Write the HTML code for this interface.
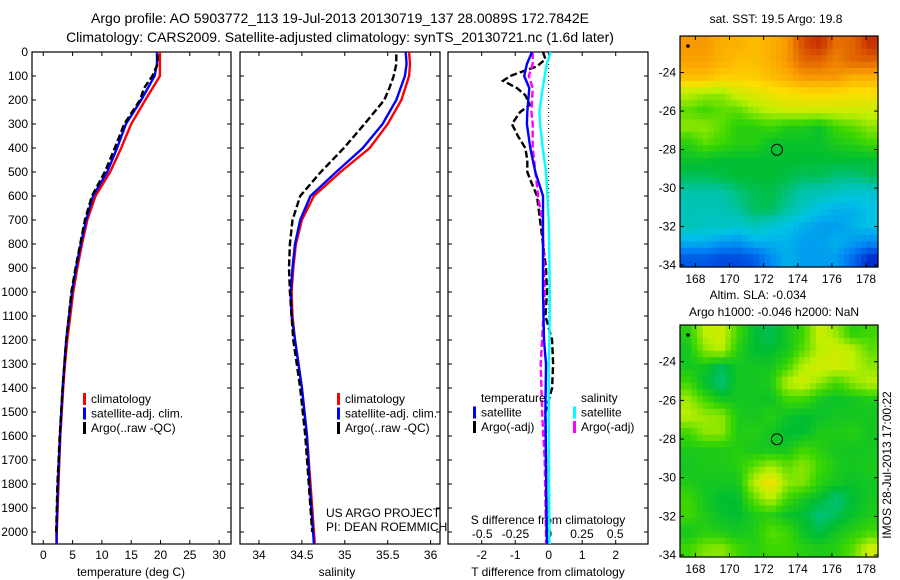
<!DOCTYPE html>
<html><head><meta charset="utf-8"><style>
body{margin:0;background:#fff;}
svg{display:block;font-family:"Liberation Sans",sans-serif;}
text{fill:#000;}
</style></head><body>
<svg id="fig" width="900" height="580">
<text x="340" y="23" font-size="14" text-anchor="middle">Argo profile: AO 5903772_113 19-Jul-2013 20130719_137 28.0089S 172.7842E</text>
<text x="340" y="42" font-size="14" text-anchor="middle">Climatology: CARS2009. Satellite-adjusted climatology: synTS_20130721.nc (1.6d later)</text>
<g id="g"></g>
</svg>
<script>
// ---------- data ----------
const depthTicks=[0,100,200,300,400,500,600,700,800,900,1000,1100,1200,1300,1400,1500,1600,1700,1800,1900,2000];
const tempTicks=[0,5,10,15,20,25,30];
const salTicks=[34,34.5,35,35.5,36];
const tdiffTicks=[-2,-1,0,1,2];
const sdiffTicks=[-0.5,-0.25,0,0.25,0.5];
const sdiffTickLabels=["-0.5","-0.25","0","0.25","0.5"];
const lonTicks=[168,170,172,174,176,178];
const latTicks=[-24,-26,-28,-30,-32,-34];

const profDepth=[0,50,100,200,300,400,500,600,700,800,900,1000,1100,1200,1300,1400,1600,1800,2000,2050];
const tempClim=[19.9,19.9,19.9,17.4,15.0,13.3,11.4,8.9,7.5,6.6,5.8,5.1,4.6,4.1,3.7,3.4,2.9,2.6,2.3,2.3];
const tempSat =[19.4,19.4,19.0,16.7,14.1,12.6,10.9,8.5,7.3,6.4,5.6,4.9,4.4,3.9,3.6,3.3,2.85,2.5,2.25,2.25];
const salClim=[35.75,35.76,35.75,35.66,35.50,35.29,34.95,34.64,34.50,34.43,34.40,34.38,34.39,34.42,34.46,34.50,34.56,34.60,34.64,34.65];
const salSat =[35.71,35.72,35.70,35.60,35.44,35.21,34.90,34.60,34.48,34.42,34.39,34.37,34.38,34.42,34.46,34.50,34.56,34.59,34.63,34.64];

const argoDepth=[10,50,100,150,200,300,400,500,600,700,800,900,1000,1200,1400,1600,1800,1900,2000];
const argoTemp=[19.5,19.5,18.6,17.2,16.5,13.8,12.2,10.5,8.3,7.1,6.3,5.5,4.8,3.9,3.3,2.8,2.4,2.3,2.2];
const argoSal=[35.60,35.60,35.57,35.52,35.46,35.23,34.99,34.72,34.48,34.39,34.36,34.35,34.36,34.40,34.48,34.54,34.58,34.60,34.62];

const diffDepth=[0,50,100,150,250,300,400,500,600,700,800,1000,1200,1300,1500,1700,2000,2050];
const tDiffSat=[-0.5,-0.65,-0.73,-0.58,-0.64,-0.65,-0.55,-0.4,-0.17,-0.17,-0.17,-0.17,-0.14,-0.08,-0.1,-0.08,-0.06,-0.05];
const sDiffSat=[0.015,-0.015,-0.03,-0.045,-0.07,-0.065,-0.045,-0.02,-0.01,0,0.004,0.008,0.006,0.0,0.0,0.002,0.005,0.005];
const sDiffArgo=[-0.12,-0.12,-0.15,-0.12,-0.13,-0.12,-0.12,-0.1,-0.08,-0.05,-0.04,-0.03,-0.05,-0.06,-0.05,-0.03,-0.02,-0.02];
const tDiffDepth=[0,30,60,80,100,120,150,180,220,250,300,350,400,450,500,550,600,700,800,900,1000,1100,1200,1300,1400,1500,1700,2000];
const tDiffArgo=[-0.17,-0.1,-0.35,-0.76,-1.15,-1.36,-0.95,-0.7,-0.56,-0.85,-1.1,-0.92,-0.7,-0.64,-0.64,-0.5,-0.35,-0.26,-0.17,-0.08,-0.05,-0.1,0.1,0.13,0.1,-0.1,-0.08,-0.06];

const sstGrid=[
[0.75,0.75,0.72,0.72,0.70,0.72,0.75,0.85,0.88,0.80,0.82,0.88],
[0.74,0.74,0.72,0.70,0.70,0.72,0.75,0.82,0.82,0.78,0.82,0.82],
[0.70,0.70,0.68,0.68,0.68,0.70,0.72,0.75,0.75,0.75,0.72,0.72],
[0.58,0.56,0.55,0.60,0.62,0.64,0.65,0.66,0.66,0.66,0.65,0.65],
[0.52,0.50,0.52,0.52,0.56,0.58,0.60,0.60,0.60,0.60,0.60,0.60],
[0.55,0.55,0.52,0.48,0.48,0.50,0.47,0.47,0.45,0.50,0.52,0.55],
[0.48,0.52,0.50,0.48,0.48,0.45,0.45,0.45,0.45,0.47,0.48,0.50],
[0.45,0.45,0.44,0.44,0.44,0.44,0.44,0.44,0.44,0.44,0.44,0.44],
[0.42,0.42,0.43,0.44,0.44,0.44,0.43,0.42,0.42,0.40,0.40,0.42],
[0.37,0.37,0.37,0.40,0.42,0.43,0.40,0.37,0.36,0.35,0.34,0.34],
[0.36,0.36,0.36,0.38,0.42,0.42,0.38,0.35,0.32,0.30,0.30,0.32],
[0.36,0.35,0.35,0.34,0.36,0.34,0.32,0.30,0.28,0.28,0.30,0.32],
[0.30,0.30,0.28,0.27,0.30,0.30,0.30,0.28,0.28,0.30,0.28,0.26],
[0.20,0.20,0.18,0.18,0.20,0.26,0.30,0.28,0.28,0.28,0.22,0.14]];
const slaGrid=[
[0.48,0.58,0.60,0.50,0.44,0.42,0.46,0.50,0.60,0.55,0.48,0.50],
[0.46,0.55,0.58,0.48,0.44,0.44,0.46,0.52,0.58,0.60,0.58,0.52],
[0.46,0.46,0.42,0.46,0.46,0.46,0.50,0.58,0.60,0.60,0.58,0.55],
[0.50,0.44,0.40,0.46,0.46,0.47,0.58,0.60,0.55,0.50,0.55,0.58],
[0.56,0.50,0.46,0.46,0.46,0.45,0.50,0.50,0.46,0.45,0.46,0.47],
[0.58,0.56,0.55,0.47,0.46,0.48,0.45,0.44,0.45,0.46,0.46,0.46],
[0.50,0.55,0.55,0.47,0.48,0.46,0.44,0.44,0.47,0.47,0.48,0.46],
[0.47,0.47,0.47,0.48,0.46,0.46,0.46,0.50,0.48,0.46,0.46,0.46],
[0.46,0.47,0.47,0.48,0.52,0.56,0.52,0.55,0.50,0.47,0.46,0.47],
[0.47,0.46,0.46,0.46,0.58,0.65,0.55,0.54,0.48,0.46,0.45,0.46],
[0.50,0.46,0.44,0.44,0.52,0.58,0.50,0.46,0.44,0.40,0.44,0.46],
[0.50,0.47,0.45,0.44,0.47,0.48,0.45,0.44,0.40,0.42,0.45,0.47],
[0.46,0.48,0.47,0.46,0.47,0.52,0.50,0.45,0.43,0.46,0.48,0.50],
[0.50,0.54,0.55,0.50,0.48,0.50,0.50,0.48,0.47,0.48,0.52,0.60]];
const argoLon=172.78, argoLat=-28.01;

// ---------- helpers ----------
const NS="http://www.w3.org/2000/svg";
const G=document.getElementById('g');
function mk(tag,attrs,parent){const e=document.createElementNS(NS,tag);for(const k in attrs)e.setAttribute(k,attrs[k]);(parent||G).appendChild(e);return e;}
function txt(x,y,s,size,anchor,parent){const t=mk('text',{x:x,y:y,'font-size':size||12,'text-anchor':anchor||'middle'},parent);t.textContent=s;return t;}

const PT=52,PB=544;
const yD=d=>PT+d*0.24;
const panels=[{x0:32,x1:231},{x0:240,x1:440},{x0:448,x1:648}];
const xT=v=>43.3+v*5.86;
const xS=v=>259+(v-34)*85.8;
const xTd=v=>548.7+v*33.5;
const xSd=v=>548.7+v*133;

panels.forEach((p,i)=>{
  const r=mk('rect',{x:p.x0,y:PT,width:p.x1-p.x0,height:PB-PT,fill:'none',stroke:'#000','stroke-width':1.2});
  
  
  depthTicks.forEach(d=>{
    mk('line',{x1:p.x0,x2:p.x0+4,y1:yD(d),y2:yD(d),stroke:'#000'});
    mk('line',{x1:p.x1,x2:p.x1-4,y1:yD(d),y2:yD(d),stroke:'#000'});
  });
});
depthTicks.forEach(d=>{const t=txt(28,yD(d)+4,String(d),12,'end');
  
  });

function xaxis(ticks,fx,labels,y){ticks.forEach((v,i)=>{const x=fx(v);
  mk('line',{x1:x,x2:x,y1:PT,y2:PT+4,stroke:'#000'});mk('line',{x1:x,x2:x,y1:PB,y2:PB-4,stroke:'#000'});
  const t=txt(x,y,labels?labels[i]:String(v),12);
  
  });}
xaxis(tempTicks,xT,null,559);
xaxis(salTicks,xS,null,559);
xaxis(tdiffTicks,xTd,null,559);
sdiffTicks.forEach((v,i)=>{const t=txt(xSd(v),538,sdiffTickLabels[i],12);
  
  });
[['temperature (deg C)',131,'x-axis-title-temperature'],['salinity',337,'x-axis-title-salinity'],['T difference from climatology',548,'x-axis-title-t-diff']].forEach(a=>{
  const t=txt(a[1],576,a[0],12);});
{const t=txt(548,524,'S difference from climatology',12);}
{const t=txt(326,517,'US ARGO PROJECT',12,'start');}
{const t=txt(326,531,'PI: DEAN ROEMMICH',12,'start');}

mk('line',{x1:xTd(0),x2:xTd(0),y1:PT,y2:PB,stroke:'#000','stroke-dasharray':'1 3'});

function line(xs,ds,fx,color,dash,name,w){
  const pts=xs.map((v,i)=>fx(v).toFixed(1)+','+yD(ds[i]).toFixed(1)).join(' ');
  const a={points:pts,fill:'none',stroke:color,'stroke-width':w||2.4};
  if(dash)a['stroke-dasharray']=dash;
  const e=mk('polyline',a);
  
  
}
line(tempClim,profDepth,xT,'#ff0000',null,'temp-climatology-line');
line(tempSat,profDepth,xT,'#0000ff',null,'temp-satellite-line');
line(argoTemp,argoDepth,xT,'#000',"7 3",'temp-argo-line');
line(salClim,profDepth,xS,'#ff0000',null,'sal-climatology-line');
line(salSat,profDepth,xS,'#0000ff',null,'sal-satellite-line');
line(argoSal,argoDepth,xS,'#000',"7 3",'sal-argo-line');
line(tDiffArgo,tDiffDepth,xTd,'#000',"7 3",'t-diff-argo-line');
line(sDiffArgo,diffDepth,xSd,'#ff00ff',"7 3",'s-diff-argo-line');
line(sDiffSat,diffDepth,xSd,'#00ffff',null,'s-diff-satellite-line');
line(tDiffSat,diffDepth,xTd,'#0000ff',null,'t-diff-satellite-line');

function legend(x,y,items,prefix){items.forEach((it,i)=>{
  const r=mk('rect',{x:x,y:y+i*14.5-10,width:3,height:12,fill:it[1]});
  
  
  const t=txt(x+8,y+i*14.5,it[0],12,'start');
  
  });}
legend(83,403,[['climatology','#f00'],['satellite-adj. clim.','#00f'],['Argo(..raw -QC)','#000']],'legend-temp');
legend(337,403,[['climatology','#f00'],['satellite-adj. clim.','#00f'],['Argo(..raw -QC)','#000']],'legend-sal');
{const t=txt(481,402,'temperature',12,'start');}
{const t=txt(581,402,'salinity',12,'start');}
legend(473,416.5,[['satellite','#00f'],['Argo(-adj)','#000']],'legend-t-diff');
legend(573,416.5,[['satellite','#0ff'],['Argo(-adj)','#f0f']],'legend-s-diff');

// ---------- maps ----------
const cmapStops=[[0,[0,0,140]],[0.15,[0,50,210]],[0.25,[0,130,245]],[0.32,[0,195,230]],[0.38,[0,195,160]],[0.44,[0,190,50]],[0.5,[60,215,0]],[0.58,[190,240,0]],[0.66,[255,220,0]],[0.74,[250,160,0]],[0.82,[225,100,0]],[0.9,[190,30,0]],[1,[140,0,0]]];
function cmap(v){v=Math.max(0,Math.min(1,v));
  for(let k=0;k<cmapStops.length-1;k++){const a=cmapStops[k],b=cmapStops[k+1];
    if(v<=b[0]){const f=(v-a[0])/(b[0]-a[0]);
      return 'rgb('+a[1].map((c,i)=>Math.round(c+(b[1][i]-c)*f)).join(',')+')';}}
  return 'rgb(140,0,0)';}
const LON0=167.1,LON1=178.7,LAT0=-22.1,LAT1=-34.1;
function drawMap(grid,y0,y1,name){
  const X0=680,X1=878;
  const fx=lon=>X0+(lon-LON0)/(LON1-LON0)*(X1-X0);
  const fy=lat=>y0+(LAT0-lat)/(LAT0-LAT1)*(y1-y0);
  const grp=mk('g',{});
  
  
  const R=grid.length,C=grid[0].length,NX=35,NY=36;
  const cw=(X1-X0)/NX,ch=(y1-y0)/NY;
  for(let j=0;j<NY;j++)for(let i=0;i<NX;i++){
    const gx=(i+0.5)/NX*C-0.5,gy=(j+0.5)/NY*R-0.5;
    const ix=Math.max(0,Math.min(C-2,Math.floor(gx))),iy=Math.max(0,Math.min(R-2,Math.floor(gy)));
    const fxr=Math.max(0,Math.min(1,gx-ix)),fyr=Math.max(0,Math.min(1,gy-iy));
    const v=grid[iy][ix]*(1-fxr)*(1-fyr)+grid[iy][ix+1]*fxr*(1-fyr)+grid[iy+1][ix]*(1-fxr)*fyr+grid[iy+1][ix+1]*fxr*fyr;
    mk('rect',{x:(X0+i*cw).toFixed(2),y:(y0+j*ch).toFixed(2),width:(cw+0.6).toFixed(2),height:(ch+0.6).toFixed(2),fill:cmap(v)},grp);
  }
  mk('rect',{x:X0,y:y0,width:X1-X0,height:y1-y0,fill:'none',stroke:'#000','stroke-width':1.2});
  lonTicks.forEach(l=>{const x=fx(l);mk('line',{x1:x,x2:x,y1:y0,y2:y0+4,stroke:'#000'});mk('line',{x1:x,x2:x,y1:y1,y2:y1-4,stroke:'#000'});
    const t=txt(x,y1+16,String(l),12);});
  latTicks.forEach(l=>{const y=fy(l);mk('line',{x1:X0,x2:X0+4,y1:y,y2:y,stroke:'#000'});mk('line',{x1:X1,x2:X1-4,y1:y,y2:y,stroke:'#000'});
    const t=txt(676,y+4,String(l),12,'end');});
  const c=mk('circle',{cx:fx(argoLon),cy:fy(argoLat),r:5.5,fill:'none',stroke:'#000','stroke-width':1});
  
  
  mk('circle',{cx:X0+8,cy:y0+10,r:1.8,fill:'#000'});
}
drawMap(sstGrid,36,267,'sst-map');
drawMap(slaGrid,325,557,'sla-map');
{const t=txt(776,23,'sat. SST: 19.5  Argo: 19.8',12);}
{const t=txt(758,299,'Altim. SLA: -0.034',12);}
{const t=txt(774,316,'Argo h1000: -0.046 h2000: NaN',12);}
{const t=txt(0,0,'IMOS 28-Jul-2013 17:00:22',12);t.setAttribute('transform','translate(891,465) rotate(-90)');}
</script>
</body></html>
